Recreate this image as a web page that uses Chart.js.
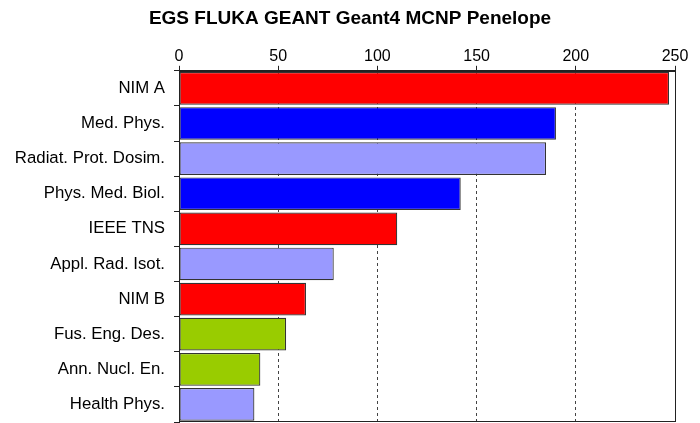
<!DOCTYPE html>
<html>
<head>
<meta charset="utf-8">
<script src="https://cdn.jsdelivr.net/npm/chart.js@4"></script>
<style>
  html, body { margin: 0; padding: 0; background: #fff; }
  #wrap { width: 700px; height: 423px; }
</style>
</head>
<body>
<div id="wrap"><canvas id="chart"></canvas></div>
<script>
  // ── Data ───────────────────────────────────────────────────────────────
  const journals = [
    'NIM A', 'Med. Phys.', 'Radiat. Prot. Dosim.', 'Phys. Med. Biol.', 'IEEE TNS',
    'Appl. Rad. Isot.', 'NIM B', 'Fus. Eng. Des.', 'Ann. Nucl. En.', 'Health Phys.'
  ];
  const papers     = [247, 190, 185, 142, 110, 78, 64, 54, 41, 38];
  const barColours = [
    '#ff0000', '#0000ff', '#9999ff', '#0000ff', '#ff0000',
    '#9999ff', '#ff0000', '#99cc00', '#99cc00', '#9999ff'
  ];
  const xTicks = [0, 50, 100, 150, 200, 250];

  const FONT = 'Liberation Sans, Arial, Helvetica, sans-serif';

  // Solid frame around the plot area (the value grid lines are dashed)
  const frame = {
    id: 'frame',
    afterDraw(chart) {
      const { ctx, chartArea: a } = chart;
      ctx.save();
      ctx.strokeStyle = '#222';
      ctx.lineWidth = 1;
      ctx.setLineDash([]);
      ctx.strokeRect(Math.round(a.left) + 0.5, Math.round(a.top) + 0.5,
                     Math.round(a.right - a.left), Math.round(a.bottom - a.top) - 1);
      ctx.restore();
    }
  };

  new Chart(document.getElementById('chart'), {
    type: 'bar',
    data: {
      labels: journals,
      datasets: [{
        data: papers,
        backgroundColor: barColours,
        borderColor: '#333',
        borderWidth: 1.2,
        borderSkipped: false,
        barPercentage: 0.93,
        categoryPercentage: 1.0,
      }],
    },
    options: {
      indexAxis: 'y',
      responsive: true,
      maintainAspectRatio: false,
      animation: false,
      layout: { padding: { left: 0, right: 0, top: 0, bottom: 1 } },
      plugins: {
        legend: { display: false },
        tooltip: { enabled: false },
        title: {
          display: true,
          text: 'EGS FLUKA GEANT Geant4 MCNP Penelope',
          color: '#000',
          font: { family: FONT, size: 19, weight: 'bold' },
          padding: { top: 7, bottom: 9 },
        },
      },
      scales: {
        x: {
          position: 'top',
          min: 0,
          max: 250,
          afterBuildTicks: (s) => { s.ticks = xTicks.map(v => ({ value: v })); },
          afterFit: (s) => { s.height = 32; s.paddingLeft = 0; s.paddingRight = 25; },
          ticks: {
            color: '#000',
            padding: 0,
            font: { family: FONT, size: 16 },
          },
          grid: {
            color: (c) => (c.tick && (c.tick.value === 0 || c.tick.value === 250)) ? 'rgba(0,0,0,0)' : '#444',
            tickColor: '#222',
            tickLength: 5,
            lineWidth: 1,
          },
          border: { display: true, color: '#222', dash: [3, 3] },
        },
        y: {
          afterFit: (s) => { s.width = 179; s.paddingTop = 0; s.paddingBottom = 0; },
          ticks: {
            color: '#000',
            padding: 9,
            font: { family: FONT, size: 16.8 },
          },
          grid: {
            drawOnChartArea: false,
            drawTicks: true,
            tickLength: 5,
            tickColor: '#222',
          },
          border: { display: true, color: '#222' },
        },
      },
    },
    plugins: [frame],
  });
</script>
</body>
</html>
